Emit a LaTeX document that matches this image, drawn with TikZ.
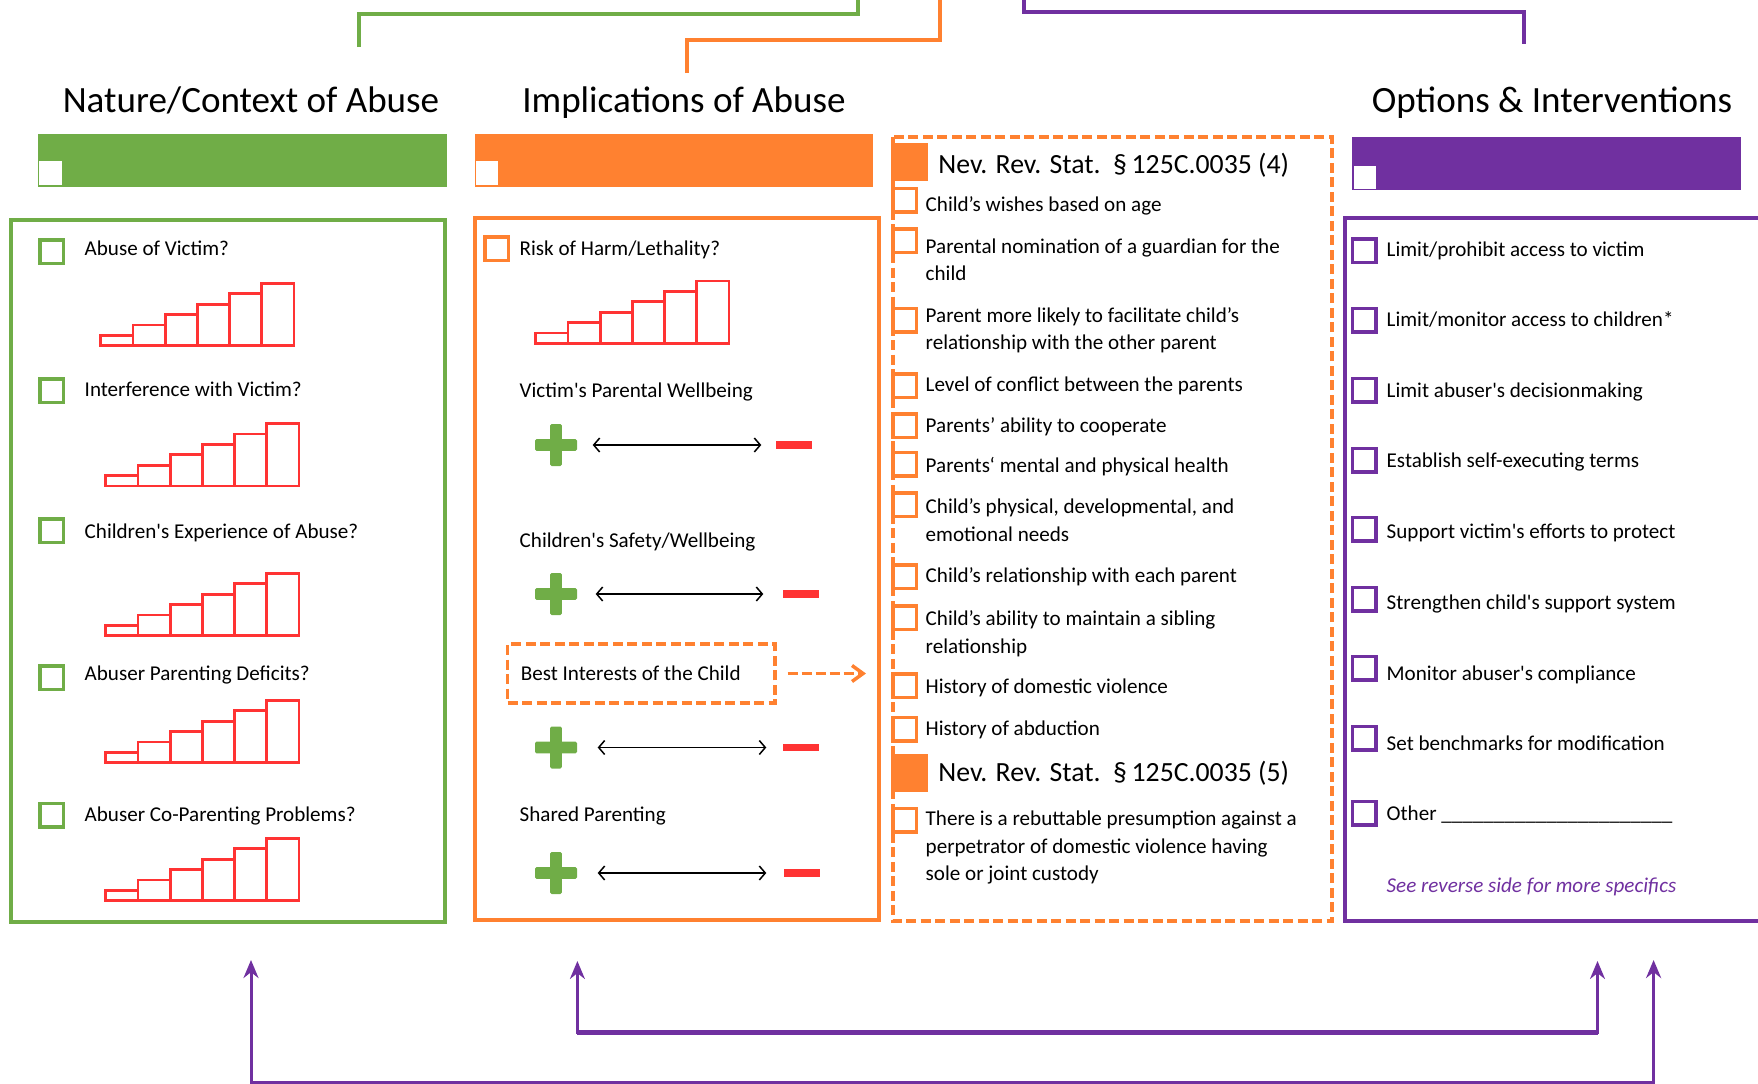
\documentclass[tikz,border=0pt]{standalone}
\usepackage{fontspec}
\setmainfont{Carlito}
\usetikzlibrary{arrows.meta}

\definecolor{ngreen}{HTML}{70AD47}
\definecolor{norange}{HTML}{FF8130}
\definecolor{npurple}{HTML}{7030A0}
\definecolor{nred}{HTML}{FF3333}

\newcommand{\bodyfont}{\fontsize{6}{7.75}\selectfont}

% six red steps, left end and base line
\newcommand{\stairs}[2]{%
  \foreach \i in {1,...,6} {
    \pgfmathsetmacro{\sx}{#1+(\i-1)*32.2}
    \pgfmathsetmacro{\sh}{10.4*\i}
    \draw[bar] (\sx,#2) rectangle ++(32.2,-\sh);
  }}

\tikzset{
  title/.style={anchor=base, inner sep=0, font=\fontsize{10.55}{12.5}\selectfont},
  statute/.style={anchor=base west, inner sep=0, font=\fontsize{7.9}{9.5}\selectfont},
  item/.style={anchor=base west, inner sep=0, align=left, font=\bodyfont},
  chk/.style={draw=#1, line width=0.35mm, minimum size=2.35mm, inner sep=0},
  frame/.style={draw=#1, line width=0.4mm},
  dashframe/.style={draw=norange, line width=0.37mm, dash pattern=on 1mm off 0.45mm},
  link/.style={draw=#1, line width=0.4mm},
  bar/.style={draw=nred, line width=0.28mm},
  plusmark/.style={minimum size=4.2mm, inner sep=0, path picture={
      \fill[ngreen, rounded corners=0.15mm]
        ([shift={(-2.1mm,-0.585mm)}]path picture bounding box.center) rectangle ++(4.2mm,1.17mm)
        ([shift={(-0.585mm,-2.1mm)}]path picture bounding box.center) rectangle ++(1.17mm,4.2mm);}},
  minusmark/.style={fill=nred, minimum width=3.6mm, minimum height=0.78mm, inner sep=0},
  scalearrow/.style={draw=black, line width=0.15mm,
      {Straight Barb[length=0.6mm,width=1.4mm]}-{Straight Barb[length=0.6mm,width=1.4mm]}},
  dashlink/.style={draw=norange, line width=0.35mm, dash pattern=on 1mm off 0.4mm,
      -{Straight Barb[length=1.1mm,width=1.6mm]}},
  feedback/.style={draw=npurple, line width=0.3mm,
      {Stealth[length=1.8mm,width=1.5mm]}-{Stealth[length=1.8mm,width=1.5mm]}},
}

\begin{document}
\begin{tikzpicture}[x=0.1mm, y=-0.1mm]
  \useasboundingbox (0,0) rectangle (1758,1084);
  \clip (0,0) rectangle (1758,1084);

  % column headings
  \node[title] (hnature) at (251,112) {Nature/Context of Abuse};
  \node[title] (himpl) at (684,112) {Implications of Abuse};
  \node[title] (hopt) at (1552,112) {Options \& Interventions};

  % lines running off the top
  \coordinate (gfoot) at (359,47);  \coordinate (gknee) at (858,13.5); \coordinate (gtop) at (858,0);
  \coordinate (ofoot) at (687,73);  \coordinate (oknee) at (940,40);   \coordinate (otop) at (940,0);
  \coordinate (ptop) at (1024,0);   \coordinate (pknee) at (1024,12);  \coordinate (pfoot) at (1524,44);
  \draw[link=ngreen] (gfoot) |- (gknee) -- (gtop);
  \draw[link=norange] (ofoot) |- (oknee) -- (otop);
  \draw[link=npurple] (ptop) -- (pknee) -| (pfoot);

  % coloured bars
  \fill[ngreen] (38,134) rectangle (447,187);
  \fill[white] (39,161) rectangle (62,185);
  \fill[norange] (475,134) rectangle (873,187);
  \fill[white] (476,161) rectangle (498,185);
  \fill[npurple] (1352,137) rectangle (1741,190);
  \draw[npurple, fill=white, line width=0.08mm] (1353,165) rectangle (1376,189);

  % frames
  \draw[frame=ngreen] (11,220) rectangle (445,922);
  \draw[frame=norange] (474.5,218.3) rectangle (878.7,920);
  \draw[dashframe] (893,137) rectangle (1332,921.3);
  \draw[frame=npurple] (1345.3,218.3) rectangle (1800,921);

  % nature / context
  \foreach \y/\c/\t [count=\k] in {
      255/251.5/{Abuse of Victim?},
      396.7/390.5/{Interference with Victim?},
      538.4/530.5/{Children\textquotesingle s Experience of Abuse?},
      680/677.5/{Abuser Parenting Deficits?},
      821.8/815/{Abuser Co-Parenting Problems?}} {
    \node[chk=ngreen] (gbox\k) at (51.5,\c) {};
    \node[item] (gitem\k) at (84,\y) {\t};
  }
  \stairs{100.7}{345.7}
  \stairs{105.7}{486}
  \stairs{105.7}{635.7}
  \stairs{105.7}{762.7}
  \stairs{105.7}{900.7}

  % implications
  \node[chk=norange] (risk) at (496.5,248.5) {};
  \node[item] (risktxt) at (519,255) {Risk of Harm/Lethality?};
  \stairs{535.7}{343.3}
  \node[item] (victim) at (519,397.7) {Victim\textquotesingle s Parental Wellbeing};
  \node[item] (safety) at (519,547) {Children\textquotesingle s Safety/Wellbeing};
  \node[dashframe, font=\bodyfont, anchor=west, inner xsep=1.33mm, inner ysep=0,
        text width=24.1mm, minimum height=5.84mm, align=flush left] (best) at (505.7,673.5)
        {Best Interests of the Child};
  \node[item] (shared) at (519,821) {Shared Parenting};
  \foreach \y/\xm/\sa/\sb [count=\k] in {445/794/1.5/1.4, 594/801/1.8/1.9,
      747.5/801/2.0/1.6, 873/802/2.0/1.7} {
    \node[plusmark] (plus\k) at (556,\y) {};
    \node[minusmark] (minus\k) at (\xm,\y) {};
    \draw[scalearrow, shorten <=\sa mm, shorten >=\sb mm] (plus\k) -- (minus\k);
  }
  \coordinate (bestto) at (866,673.5);
  \draw[dashlink, shorten <=1.07mm] (best) -- (bestto);

  % statute factors (multi-line texts sit on their last line)
  \fill[norange] (891,143.3) rectangle (927.7,180.7);
  \node[statute] (nrs4) at (937.7,173.5) {Nev. Rev. Stat.\ \ §\,125C.0035 (4)};
  \foreach \y/\c/\t [count=\k] in {
      211.3/200.2/{Child’s wishes based on age},
      280.3/240.5/{Parental nomination of a guardian for the\\child},
      349.7/320/{Parent more likely to facilitate child’s\\relationship with the other parent},
      391/385.5/{Level of conflict between the parents},
      432/425.5/{Parents’ ability to cooperate},
      472.7/464.2/{Parents‘ mental and physical health},
      541/504.5/{Child’s physical, developmental, and\\emotional needs},
      582.7/576.5/{Child’s relationship with each parent},
      653/617.5/{Child’s ability to maintain a sibling\\relationship},
      693.7/685.5/{History of domestic violence},
      735.3/729.3/{History of abduction}} {
    \node[chk=norange] (sbox\k) at (904.7,\c) {};
    \node[item] (sitem\k) at (925,\y) {\t};
  }
  \fill[norange] (891,754) rectangle (927.7,791.7);
  \node[statute] (nrs5) at (937.7,781.7) {Nev. Rev. Stat.\ \ §\,125C.0035 (5)};
  \node[chk=norange] (pbox) at (904.7,820) {};
  \node[item] (presume) at (925,880.3)
    {There is a rebuttable presumption against a\\perpetrator of domestic violence having\\sole or joint custody};

  % options and interventions
  \foreach \y/\c/\t [count=\k] in {
      256/250.8/{Limit/prohibit access to victim},
      326/320/{Limit/monitor access to children*},
      397.7/390/{Limit abuser\textquotesingle s decisionmaking},
      467/460/{Establish self-executing terms},
      538.7/529.3/{Support victim\textquotesingle s efforts to protect},
      609.3/599.3/{Strengthen child\textquotesingle s support system},
      680/668.3/{Monitor abuser\textquotesingle s compliance},
      750.3/738.2/{Set benchmarks for modification},
      820.3/813.3/{Other \_\_\_\_\_\_\_\_\_\_\_\_\_\_\_\_\_\_\_\_\_\_}} {
    \node[chk=npurple] (obox\k) at (1364.3,\c) {};
    \node[item] (oitem\k) at (1386,\y) {\t};
  }
  \node[item, text=npurple, font=\bodyfont\itshape] (reverse) at (1386,892)
    {See reverse side for more specifics};

  % feedback arrows along the bottom
  \coordinate (natip) at (251,960);    \coordinate (nalow) at (251,1082.5);
  \coordinate (optip2) at (1653.6,960);
  \coordinate (imtip) at (577.4,961);  \coordinate (imlow) at (577.4,1032.7);
  \coordinate (optip1) at (1597.5,961);
  \draw[feedback] (natip) -- (nalow) -| (optip2);
  \draw[feedback, line width=0.25mm] (imtip) -- (imlow) -| (optip1);
  \draw[npurple, line width=0.45mm] (imlow) -- (optip1 |- imlow);
\end{tikzpicture}
\end{document}
